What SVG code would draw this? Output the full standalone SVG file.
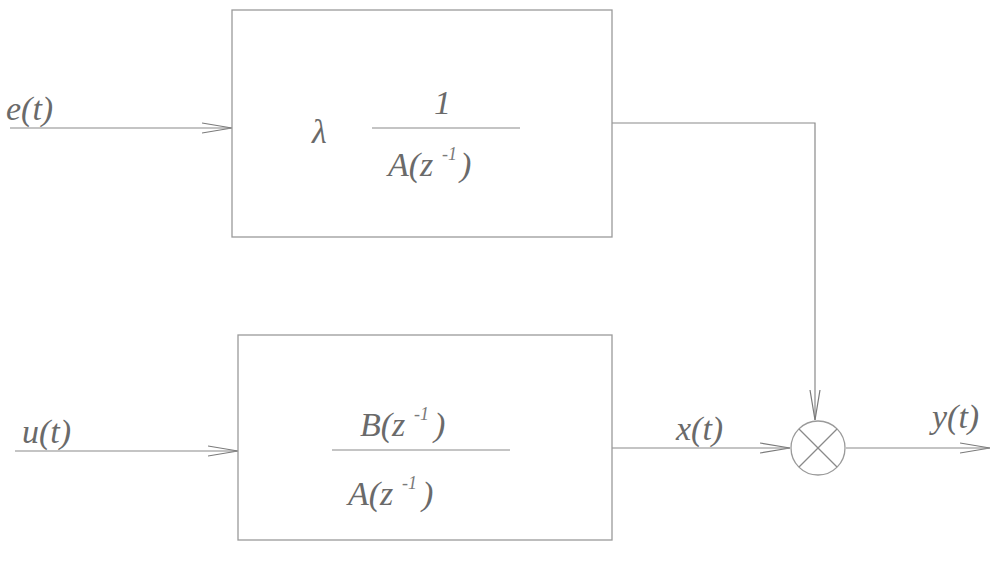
<svg xmlns="http://www.w3.org/2000/svg" width="1000" height="567" viewBox="0 0 1000 567">
<style>
.box{fill:none;stroke:#9a9a9a;stroke-width:1.3}
.ln{fill:none;stroke:#8a8a8a;stroke-width:1.2}
.t{font-family:"Liberation Serif",serif;font-style:italic;font-size:34px;fill:#6a6a6a}
.sup{font-family:"Liberation Serif",serif;font-style:italic;font-size:18px;fill:#7a7a7a}
</style>
<defs>
<marker id="ah" markerWidth="30" markerHeight="12" refX="30" refY="6" orient="auto" markerUnits="userSpaceOnUse">
<path d="M0,1 L30,6 L0,11" fill="none" stroke="#7a7a7a" stroke-width="1.2"/>
</marker>
</defs>
<g id="connectors">
<line class="ln" x1="10" y1="128" x2="232" y2="128" marker-end="url(#ah)"/>
<line class="ln" x1="15" y1="451" x2="238" y2="451" marker-end="url(#ah)"/>
<polyline class="ln" points="612,123 815,123 815,420" marker-end="url(#ah)"/>
<line class="ln" x1="612" y1="448" x2="790" y2="448" marker-end="url(#ah)"/>
<line class="ln" x1="846" y1="448" x2="990" y2="448" marker-end="url(#ah)"/>
</g>
<g id="label-e"><text class="t" x="6" y="120">e(t)</text></g>
<g id="label-u"><text class="t" x="22" y="443">u(t)</text></g>
<g id="label-x"><text class="t" x="676" y="440">x(t)</text></g>
<g id="label-y"><text class="t" x="932" y="428">y(t)</text></g>
<g id="block-noise">
<rect class="box" x="232" y="10" width="380" height="227"/>
<text class="t" x="312" y="143">λ</text>
<text class="t" x="434" y="114">1</text>
<line class="ln" x1="372" y1="128" x2="520" y2="128"/>
<text class="t" x="388" y="176">A(z</text>
<text class="sup" x="442" y="160">-1</text>
<text class="t" x="460" y="176">)</text>
</g>
<g id="block-plant">
<rect class="box" x="238" y="335" width="374" height="205"/>
<text class="t" x="360" y="436">B(z</text>
<text class="sup" x="414" y="420">-1</text>
<text class="t" x="434" y="436">)</text>
<line class="ln" x1="332" y1="450" x2="510" y2="450"/>
<text class="t" x="348" y="505">A(z</text>
<text class="sup" x="402" y="489">-1</text>
<text class="t" x="422" y="505">)</text>
</g>
<g id="multiplier">
<circle class="box" cx="818" cy="448" r="27"/>
<line class="ln" x1="799" y1="429" x2="837" y2="467"/>
<line class="ln" x1="837" y1="429" x2="799" y2="467"/>
</g>
</svg>
